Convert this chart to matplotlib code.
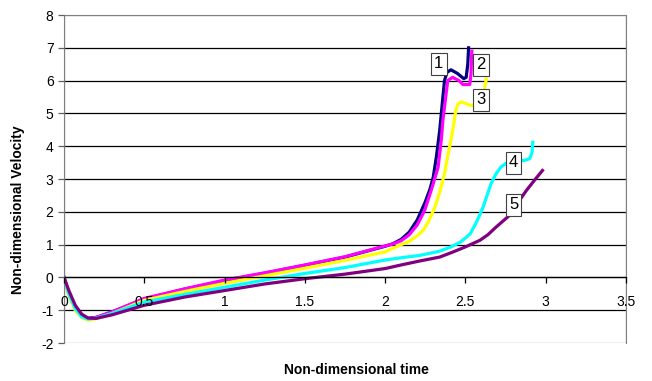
import matplotlib.pyplot as plt
from matplotlib.patches import Rectangle

plt.rcParams['font.family'] = ['Liberation Sans', 'DejaVu Sans']
plt.rcParams['axes.unicode_minus'] = False

# early part shared time base
t_early = [0, 0.03, 0.07, 0.11, 0.15, 0.2, 0.3, 0.5, 0.75, 1.0, 1.25, 1.5, 1.75, 2.0]

t1 = t_early + [2.05, 2.1, 2.15, 2.2, 2.25, 2.28, 2.3, 2.32, 2.34, 2.36, 2.37, 2.385,
                2.41, 2.45, 2.49, 2.505, 2.515, 2.52]
v1 = [0, -0.5, -0.95, -1.18, -1.25, -1.22, -1.05, -0.66, -0.36, -0.1, 0.13, 0.37, 0.62, 0.95,
      1.03, 1.16, 1.38, 1.75, 2.3, 2.7, 3.06, 3.7, 4.48, 5.5, 6.0, 6.25,
      6.33, 6.22, 6.06, 6.1, 6.5, 7.0]

t2 = t_early + [2.05, 2.1, 2.15, 2.2, 2.246, 2.29, 2.33, 2.35, 2.36, 2.38, 2.39, 2.42,
                2.46, 2.485, 2.527, 2.535, 2.54]
v2 = [0, -0.5, -0.95, -1.18, -1.25, -1.22, -1.05, -0.64, -0.35, -0.08, 0.14, 0.38, 0.63, 0.96,
      1.02, 1.12, 1.3, 1.6, 2.04, 2.7, 3.36, 4.2, 4.79, 5.6, 6.0, 6.1,
      6.0, 5.88, 5.88, 6.2, 6.9]

t3 = t_early + [2.09, 2.15, 2.2, 2.236, 2.27, 2.31, 2.34, 2.37, 2.39, 2.41, 2.43, 2.44,
                2.455, 2.475, 2.537, 2.58, 2.61, 2.62, 2.63]
v3 = [0, -0.55, -1.0, -1.22, -1.3, -1.26, -1.1, -0.7, -0.43, -0.18, 0.05, 0.28, 0.52, 0.78,
      0.98, 1.1, 1.27, 1.43, 1.7, 2.14, 2.6, 3.16, 3.7, 4.18, 4.75, 5.09,
      5.3, 5.35, 5.24, 5.3, 5.5, 5.75, 6.05]

t4 = t_early + [2.1, 2.215, 2.34, 2.42, 2.47, 2.5, 2.53, 2.56, 2.58, 2.61, 2.635, 2.66,
                2.69, 2.72, 2.76, 2.82, 2.87, 2.9, 2.915, 2.92]
v4 = [0, -0.5, -0.95, -1.2, -1.27, -1.24, -1.1, -0.75, -0.52, -0.3, -0.08, 0.12, 0.3, 0.53,
      0.6, 0.67, 0.8, 0.95, 1.08, 1.2, 1.33, 1.6, 1.8, 2.14, 2.5, 2.86,
      3.15, 3.36, 3.5, 3.55, 3.57, 3.62, 3.8, 4.12]

t5 = t_early + [2.1, 2.215, 2.34, 2.42, 2.5, 2.59, 2.64, 2.69, 2.73, 2.775, 2.83, 2.88,
                2.93, 2.98]
v5 = [0, -0.4, -0.85, -1.12, -1.24, -1.25, -1.14, -0.85, -0.6, -0.4, -0.2, -0.04, 0.1, 0.27,
      0.38, 0.5, 0.62, 0.77, 0.93, 1.13, 1.3, 1.53, 1.7, 1.89, 2.3, 2.65,
      2.96, 3.26]

series = [(t1, v1), (t2, v2), (t3, v3), (t4, v4), (t5, v5)]
colors = ['#000080', '#FF00FF', '#FFFF00', '#00FFFF', '#800080']
labels = ['1', '2', '3', '4', '5']
label_pos = [(2.334, 6.51), (2.598, 6.48), (2.598, 5.41), (2.80, 3.49), (2.80, 2.21)]

fig = plt.figure(figsize=(6.52, 3.81), dpi=100)
ax = fig.add_axes([0.0982, 0.0997, 0.8618, 0.8609])
ax.set_xlim(0, 3.5)
ax.set_ylim(-2, 8)

# horizontal gridlines under the curves
for yv in range(-1, 8):
    ax.axhline(yv, color='black', lw=0.9, zorder=0.5)

for (t, v), c in zip(series, colors):
    ax.plot(t, v, color=c, lw=2.3, zorder=2, solid_joinstyle='round')

for lab, (x, y) in zip(labels, label_pos):
    ax.text(x, y, lab, fontsize=12, ha='center', va='center', zorder=5,
            bbox=dict(boxstyle='square,pad=0.2', fc='white', ec='#404040', lw=0.8))

ax.set_axisbelow(False)
for s in ['top', 'right', 'left']:
    ax.spines[s].set_color('#808080')
ax.spines['bottom'].set_position(('data', 0))
ax.spines['bottom'].set_color('black')
ax.spines['bottom'].set_linewidth(0.9)
ax.add_patch(Rectangle((0, 0), 1, 1, transform=ax.transAxes, fill=False,
                       ec='#808080', lw=0.9, zorder=0.6))

ax.set_xticks([0, 0.5, 1, 1.5, 2, 2.5, 3, 3.5])
ax.set_xticklabels(['0', '0.5', '1', '1.5', '2', '2.5', '3', '3.5'])
ax.set_yticks(range(-2, 9))
ax.tick_params(axis='x', direction='out', length=4.5, width=0.9, pad=8, labelsize=10)
ax.tick_params(axis='y', direction='out', length=4.5, width=0.9, colors='#606060',
               labelcolor='black', pad=3, labelsize=10)

fig.text(0.547, 0.03, 'Non-dimensional time', ha='center', va='center',
         fontsize=10, fontweight='bold')
fig.text(0.028, 0.45, 'Non-dimensional Velocity', ha='center', va='center',
         rotation=90, fontsize=10, fontweight='bold')

fig.savefig('out.png', dpi=100)
